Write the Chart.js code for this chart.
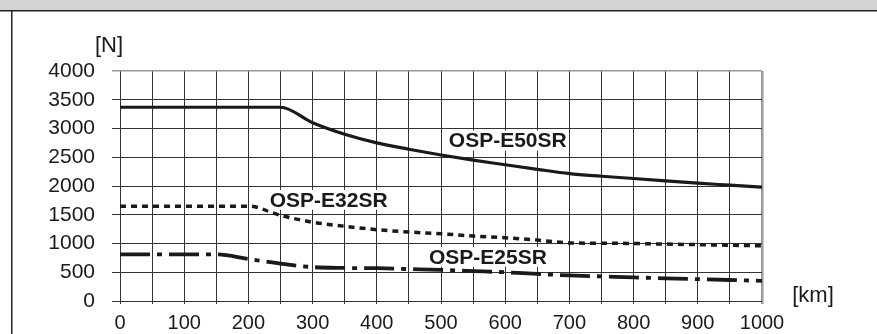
<!DOCTYPE html>
<html>
<head>
<meta charset="utf-8">
<script src="https://cdn.jsdelivr.net/npm/chart.js@4"></script>
<style>
    body { margin: 0; background: #fff; }
    #wrap { width: 877px; height: 334px; position: relative; }
</style>
</head>
<body>
<div id="wrap"><canvas id="lifeChart" width="877" height="334"></canvas></div>
<script>
// 行程 [km]
const kmValues = [0, 50, 100, 150, 200, 250, 300, 350, 400, 450, 500, 550, 600, 650, 700, 750, 800, 850, 900, 950, 1000];
// 载荷 [N]
const e50Values = [3370, 3370, 3370, 3370, 3370, 3370, 3100, 2900, 2750, 2640, 2540, 2450, 2370, 2290, 2215, 2170, 2130, 2090, 2050, 2015, 1980];
const e32Values = [1650, 1650, 1650, 1650, 1650, 1490, 1370, 1300, 1240, 1200, 1170, 1130, 1100, 1060, 1010, 1005, 1000, 990, 980, 970, 960];
const e25Values = [810, 810, 810, 810, 730, 650, 590, 575, 570, 555, 540, 520, 500, 470, 445, 428, 410, 395, 380, 365, 350];
const seriesNames = ['OSP-E50SR', 'OSP-E32SR', 'OSP-E25SR'];
const yTicks = [0, 500, 1000, 1500, 2000, 2500, 3000, 3500, 4000];
const xTicks = [0, 100, 200, 300, 400, 500, 600, 700, 800, 900, 1000];

// 曲线上的名称标签 (数据坐标)
const curveLabels = [
    { text: seriesNames[0], km: 604, n: 2790 },
    { text: seriesNames[1], km: 325, n: 1760 },
    { text: seriesNames[2], km: 573, n: 770 }
];

function toPoints(ys) {
    return kmValues.map((x, i) => ({ x: x, y: ys[i] }));
}

// 顶部灰条和边框
const framePlugin = {
    id: 'frame',
    beforeDraw(chart) {
        const ctx = chart.ctx;
        ctx.save();
        ctx.fillStyle = '#d3d3d3';
        ctx.fillRect(0, 0, chart.width, 10);
        ctx.strokeStyle = '#222';
        ctx.lineWidth = 1.5;
        ctx.beginPath();
        ctx.moveTo(0, 10.75);
        ctx.lineTo(chart.width, 10.75);
        ctx.moveTo(11.75, 10);
        ctx.lineTo(11.75, chart.height);
        ctx.stroke();
        ctx.restore();
    }
};

// 标题 [N] [km] 和曲线标签
const textPlugin = {
    id: 'texts',
    afterDatasetsDraw(chart) {
        const ctx = chart.ctx;
        const xs = chart.scales.x, ys = chart.scales.y;
        ctx.save();
        ctx.fillStyle = '#1a1a1a';
        ctx.font = '22px "Liberation Sans", Arial, sans-serif';
        ctx.textAlign = 'center';
        ctx.textBaseline = 'middle';
        ctx.fillText('[N]', xs.left - 11, ys.top - 25);
        ctx.fillText('[km]', xs.right + 51, ys.bottom - 5);

        ctx.font = 'bold 21px "Liberation Sans", Arial, sans-serif';
        curveLabels.forEach(l => {
            const px = xs.getPixelForValue(l.km);
            const py = ys.getPixelForValue(l.n);
            const w = ctx.measureText(l.text).width;
            ctx.fillStyle = '#fff';
            ctx.fillRect(px - w / 2 - 2, py - 10, w + 4, 20);
            ctx.fillStyle = '#1a1a1a';
            ctx.fillText(l.text, px, py + 1);
        });
        ctx.restore();
    }
};

var ctxLine = document.getElementById('lifeChart').getContext('2d');
var lifeChart = new Chart(ctxLine, {
    type: 'line',
    data: {
        datasets: [
            {
                label: seriesNames[0],
                data: toPoints(e50Values),
                borderColor: '#1a1a1a',
                borderWidth: 3.2,
                pointRadius: 0,
                cubicInterpolationMode: 'monotone'
            },
            {
                label: seriesNames[1],
                data: toPoints(e32Values),
                borderColor: '#1a1a1a',
                borderWidth: 3.5,
                borderDash: [6, 5],
                pointRadius: 0,
                cubicInterpolationMode: 'monotone'
            },
            {
                label: seriesNames[2],
                data: toPoints(e25Values),
                borderColor: '#1a1a1a',
                borderWidth: 3.8,
                borderDash: [30, 7, 5, 7],
                pointRadius: 0,
                cubicInterpolationMode: 'monotone'
            }
        ]
    },
    options: {
        responsive: false,
        animation: false,
        layout: { padding: { left: 0, right: 115, top: 71, bottom: 0 } },
        plugins: {
            legend: { display: false },
            tooltip: { enabled: false }
        },
        scales: {
            x: {
                type: 'linear',
                min: 0,
                max: 1000,
                afterFit: s => { s.height = 33; },
                border: { display: false },
                grid: {
                    color: c => c.tick && c.tick.value === 1000 ? '#9a9a9a' : '#333',
                    lineWidth: c => c.tick && c.tick.value === 1000 ? 2.5 : 1,
                    tickLength: 3
                },
                ticks: {
                    stepSize: 50,
                    autoSkip: false,
                    maxRotation: 0,
                    padding: 7,
                    color: '#1a1a1a',
                    font: { family: '"Liberation Sans", Arial, sans-serif', size: 20 },
                    callback: v => xTicks.includes(v) ? String(v) : ''
                }
            },
            y: {
                min: 0,
                max: 4000,
                afterFit: s => { s.width = 120; },
                border: { display: false },
                grid: {
                    color: c => c.tick && c.tick.value === 4000 ? '#9a9a9a' : '#333',
                    lineWidth: c => c.tick && c.tick.value === 4000 ? 1.5 : 1,
                    tickLength: 8
                },
                ticks: {
                    stepSize: 500,
                    padding: 17,
                    color: '#1a1a1a',
                    font: { family: '"Liberation Sans", Arial, sans-serif', size: 21 },
                    callback: v => yTicks.includes(v) ? String(v) : ''
                }
            }
        }
    },
    plugins: [framePlugin, textPlugin]
});
</script>
</body>
</html>
